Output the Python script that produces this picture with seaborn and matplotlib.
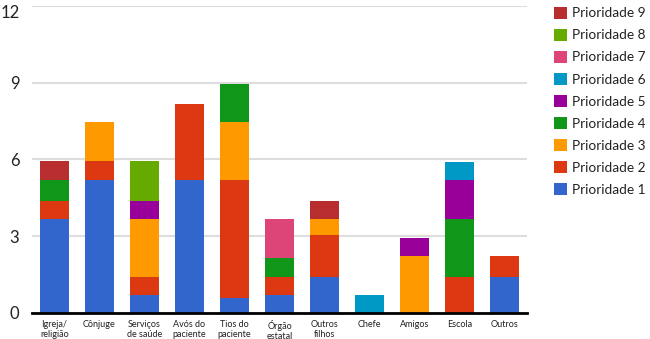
import matplotlib
matplotlib.use("Agg")
import matplotlib.pyplot as plt
import matplotlib.transforms as mtransforms
import numpy as np
import seaborn as sns
from matplotlib.patches import Patch

categories = [
    "Igreja/\nreligião", "Cônjuge", "Serviços\nde saúde", "Avós do\npaciente",
    "Tios do\npaciente", "Órgão\nestatal", "Outros\nfilhos", "Chefe",
    "Amigos", "Escola", "Outros",
]

# segment heights per priority, one value per category
p1 = [3.66, 5.20, 0.70, 5.20, 0.60, 0.70, 1.40, 0.00, 0.00, 0.00, 1.40]
p2 = [0.72, 0.75, 0.70, 2.97, 4.60, 0.71, 1.65, 0.00, 0.00, 1.40, 0.82]
p3 = [0.00, 1.51, 2.26, 0.00, 2.26, 0.00, 0.61, 0.00, 2.22, 0.00, 0.00]
p4 = [0.82, 0.00, 0.00, 0.00, 1.48, 0.72, 0.00, 0.00, 0.00, 2.26, 0.00]
p5 = [0.00, 0.00, 0.72, 0.00, 0.00, 0.00, 0.00, 0.00, 0.71, 1.54, 0.00]
p6 = [0.00, 0.00, 0.00, 0.00, 0.00, 0.00, 0.00, 0.70, 0.00, 0.71, 0.00]
p7 = [0.00, 0.00, 0.00, 0.00, 0.00, 1.53, 0.00, 0.00, 0.00, 0.00, 0.00]
p8 = [0.00, 0.00, 1.55, 0.00, 0.00, 0.00, 0.00, 0.00, 0.00, 0.00, 0.00]
p9 = [0.75, 0.00, 0.00, 0.00, 0.00, 0.00, 0.72, 0.00, 0.00, 0.00, 0.00]

series_labels = [f"Prioridade {i}" for i in range(1, 10)]
series = [p1, p2, p3, p4, p5, p6, p7, p8, p9]
colors = ["#3366cc", "#dc3912", "#ff9900", "#109618", "#990099",
          "#0099c6", "#dd4477", "#66aa00", "#b82e2e"]

y_ticks = [0, 3, 6, 9, 12]

sns.set_style("white")
plt.rcParams["font.family"] = ["Lato", "DejaVu Sans"]

fig = plt.figure(figsize=(6.5, 3.39), dpi=100)
ax = fig.add_axes([0.049, 0.077, 0.762, 0.905])

cum = np.cumsum(np.array(series), axis=0)
# draw the tallest cumulative stack first so lower priorities cover it
for i in range(len(series) - 1, -1, -1):
    sns.barplot(x=categories, y=cum[i], color=colors[i], saturation=1,
                width=0.646, linewidth=0, ax=ax, zorder=2)

ax.set_ylim(0, 12)
ax.set_yticks(y_ticks)
ax.set_yticklabels([str(t) for t in y_ticks])
ax.yaxis.grid(True, color="#dddddd", lw=1.5, zorder=0)
ax.set_axisbelow(True)
ax.tick_params(axis="y", length=0, pad=9, labelsize=12, labelcolor="#222222")
ax.tick_params(axis="x", length=0, pad=5, labelsize=6.5, labelcolor="#222222")
# top label sits a touch below its gridline so it stays inside the canvas
top_lab = ax.get_yticklabels()[-1]
top_lab.set_transform(top_lab.get_transform() +
                      mtransforms.ScaledTranslation(0, -4 / 72, fig.dpi_scale_trans))
for lab in ax.get_xticklabels():
    lab.set_linespacing(1.1)
for side in ["top", "right", "left"]:
    ax.spines[side].set_visible(False)
ax.spines["bottom"].set_color("black")
ax.spines["bottom"].set_linewidth(2)
ax.set_xlabel("")
ax.set_ylabel("")

handles = [Patch(facecolor=colors[i], edgecolor="none", label=series_labels[i])
           for i in range(len(series) - 1, -1, -1)]
fig.legend(handles=handles, loc="upper left", bbox_to_anchor=(0.852, 0.98),
           frameon=False, fontsize=9.8, handlelength=0.95, handleheight=0.95,
           handletextpad=0.42, labelspacing=0.7, borderaxespad=0, borderpad=0,
           labelcolor="#222222")

fig.savefig("out.png", dpi=100)
